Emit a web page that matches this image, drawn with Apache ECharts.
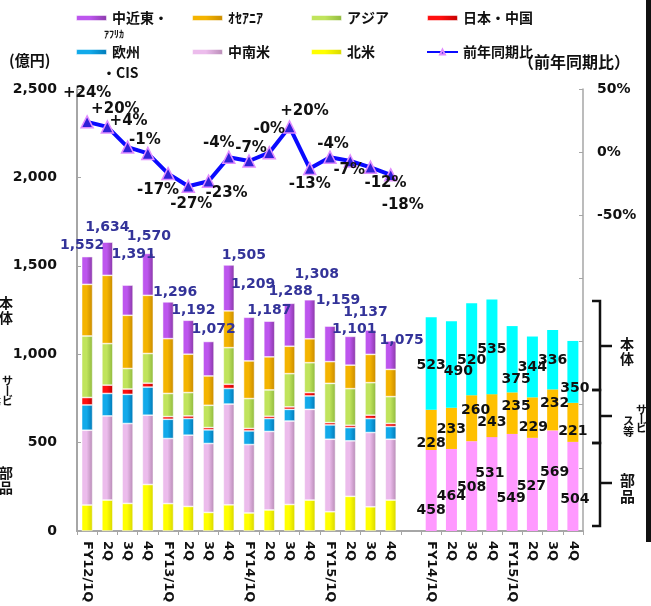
<!DOCTYPE html>
<html>
<head>
<meta charset="utf-8">
<script src="https://cdn.jsdelivr.net/npm/echarts@6/dist/echarts.min.js"></script>
<style>
  html, body { margin: 0; padding: 0; background: #fff; }
  #chart { width: 651px; height: 606px; }
</style>
</head>
<body>
<div id="chart"></div>
<script>
// Quarter labels
const quarters = ['FY12/1Q','2Q','3Q','4Q','FY13/1Q','2Q','3Q','4Q','FY14/1Q','2Q','3Q','4Q','FY15/1Q','2Q','3Q','4Q'];
const breakdownQuarters = ['FY14/1Q','2Q','3Q','4Q','FY15/1Q','2Q','3Q','4Q'];

// Sales by region (億円), FY12/1Q .. FY15/4Q
const northAmerica     = [147,175,156,263,155,139,105,148,102,119,150,175,109,196,137,175];
const latinAmerica     = [423,476,452,392,368,403,390,570,387,444,472,513,410,314,420,344];
const europeCis        = [143,127,165,159,109, 94, 77, 88, 77, 73, 66, 76, 81, 75, 79, 72];
const japanChina       = [ 42, 47, 30, 22, 15, 15, 13, 24, 14, 13, 14, 19, 13, 13, 19, 17];
const asia             = [348,235,116,168,131,132,126,207,169,149,188,169,222,207,184,152];
const oceania          = [292,386,301,329,310,217,166,208,213,187,155,135,123,133,160,154];
const middleEastAfrica = [157,188,171,237,208,192,195,260,247,202,243,221,201,163,138,161];

// Year-on-year change (%)
const yoyChange = [24,20,4,-1,-17,-27,-23,-4,-7,-0.4,20,-13,-4,-7,-12,-18];

// Sales by type (億円), FY14/1Q .. FY15/4Q
const parts    = [458,464,508,531,549,527,569,504];
const services = [228,233,260,243,235,229,232,221];
const mainUnit = [523,490,520,535,375,344,336,350];

// Label nudges [dx, dy] so neighbouring labels do not collide
const totalLabelOffsets = [[-5,0],[0,-4],[6,-20],[1,-6],[7,1],[5,1],[5,-1],[15,1],[4,-22],[0,0],[1,-1],[7,-14],[8,-15],[4,4],[-5,-7],[11,10]];
const yoyLabelOffsets = [[0,-29],[8,-18],[1,-26],[-3,-13],[-10,16],[3,18],[18,12],[-10,-14],[2,-13],[0,-24],[15,-16],[0,16],[3,-13],[-1,9],[15,16],[12,30]];
const partsLabelOffsets   = [[0,20],[0,6],[0,1],[-2,-11],[-1,16],[-1,2],[2,-8],[2,13]];
const servicesLabelOffsets = [[0,13],[0,1],[4,-8],[0,7],[4,-7],[1,10],[2,-7],[0,9]];
const mainLabelOffsets    = [[0,2],[7,7],[0,11],[0,2],[4,20],[0,0],[0,1],[2,16]];

const categories = quarters.concat([''], breakdownQuarters);
const GAP = 1;
const padLeft = arr => arr.concat(new Array(GAP + breakdownQuarters.length).fill(null));
const padRight = arr => new Array(quarters.length + GAP).fill(null).concat(arr);

const regionArrays = [northAmerica, latinAmerica, europeCis, japanChina, asia, oceania, middleEastAfrica];
const totals = quarters.map((_, i) => regionArrays.reduce((s, a) => s + a[i], 0));
const fmt = n => String(n).replace(/\B(?=(\d{3})+(?!\d))/g, ',');

const NUM_FONT = 'DejaVu Sans';
const JP_FONT = 'Noto Sans CJK JP';

function grad(c1, c2) {
  return { type: 'linear', x: 0, y: 0, x2: 1, y2: 0,
    colorStops: [{ offset: 0, color: c1 }, { offset: 0.45, color: c1 }, { offset: 1, color: c2 }] };
}

function regionBar(name, values, c1, c2, extra) {
  return Object.assign({
    name, type: 'bar', stack: 'sales', barWidth: 11,
    itemStyle: { color: grad(c1, c2), borderColor: 'rgba(255,255,255,0.75)', borderWidth: 0.7 },
    data: padLeft(values)
  }, extra || {});
}

function typeBar(name, values, color, offsets) {
  return {
    name, type: 'bar', stack: 'sales', barWidth: 11,
    itemStyle: { color },
    label: { show: true, position: 'inside', color: '#111', fontFamily: NUM_FONT, fontWeight: 'bold', fontSize: 14 },
    data: padRight(values.map((v, i) => ({ value: v, label: { offset: offsets[i] } })))
  };
}

const series = [
  regionBar('北米', northAmerica, '#ffff00', '#d6d600'),
  regionBar('中南米', latinAmerica, '#ecbcec', '#b68ab4'),
  regionBar('欧州', europeCis, '#12aaea', '#0078b6'),
  regionBar('日本・中国', japanChina, '#ff1010', '#c00000'),
  regionBar('アジア', asia, '#c0e45c', '#8fb83e'),
  regionBar('ｵｾｱﾆｱ', oceania, '#f4b400', '#c88a00'),
  regionBar('中近東・', middleEastAfrica, '#bd56ee', '#8838a6', {
    label: {
      show: true, position: 'top', distance: 4,
      color: '#333399', fontFamily: NUM_FONT, fontWeight: 'bold', fontSize: 14,
      formatter: p => fmt(totals[p.dataIndex])
    },
    data: padLeft(middleEastAfrica.map((v, i) => ({ value: v, label: { offset: totalLabelOffsets[i] } })))
  }),
  typeBar('部品', parts, '#ff99ff', partsLabelOffsets),
  typeBar('サービス等', services, '#ffc000', servicesLabelOffsets),
  typeBar('本体', mainUnit, '#00ffff', mainLabelOffsets),
  {
    name: '前年同期比', type: 'line', yAxisIndex: 1, z: 10,
    symbol: 'triangle', symbolSize: 12,
    lineStyle: { color: '#0a0aff', width: 4 },
    itemStyle: { color: '#3020d8', borderColor: '#e08cff', borderWidth: 1.5 },
    label: {
      show: true, position: 'inside', color: '#111',
      fontFamily: NUM_FONT, fontWeight: 'bold', fontSize: 15,
      formatter: p => (p.value < 0 ? '-' : '+') + Math.abs(Math.round(p.value)) + '%'
    },
    data: padLeft(yoyChange.map((v, i) => ({ value: v, label: { offset: yoyLabelOffsets[i] } })))
  }
];

const legendText = { fontFamily: JP_FONT, fontWeight: 'bold', fontSize: 14, color: '#111' };
function legendAt(name, left, top) {
  return { data: [name], left, top, itemWidth: 31, itemHeight: 6, itemGap: 0,
    textStyle: legendText, selectedMode: false };
}

const axisGrey = '#a6a6a6';

const option = {
  animation: false,
  backgroundColor: '#fff',
  grid: { left: 77, right: 68, top: 89, bottom: 75 },
  legend: [
    legendAt('中近東・', 70, 6),
    legendAt('ｵｾｱﾆｱ', 186, 6),
    legendAt('アジア', 305, 6),
    legendAt('日本・中国', 421, 6),
    legendAt('欧州', 70, 40),
    legendAt('中南米', 186, 40),
    legendAt('北米', 305, 40),
    legendAt('前年同期比', 421, 40)
  ],
  xAxis: {
    type: 'category', data: categories,
    axisLine: { lineStyle: { color: axisGrey, width: 2 } },
    axisTick: { show: true, length: 4, lineStyle: { color: axisGrey } },
    axisLabel: { interval: 0, rotate: -90, margin: 10, color: '#111',
      fontFamily: NUM_FONT, fontWeight: 'bold', fontSize: 13 }
  },
  yAxis: [
    {
      type: 'value', min: 0, max: 2500, interval: 500,
      axisLine: { show: true, lineStyle: { color: axisGrey, width: 2 } },
      axisTick: { show: true, inside: true, length: 4, lineStyle: { color: axisGrey } },
      splitLine: { show: false },
      axisLabel: { margin: 20, color: '#111', fontFamily: NUM_FONT, fontWeight: 'bold', fontSize: 14,
        formatter: v => fmt(v) }
    },
    {
      type: 'value', position: 'right', min: -300, max: 50, interval: 50,
      axisLine: { show: true, lineStyle: { color: axisGrey, width: 1.5 } },
      axisTick: { show: true, inside: true, length: 4, lineStyle: { color: axisGrey } },
      splitLine: { show: false },
      axisLabel: { margin: 14, color: '#111', fontFamily: NUM_FONT, fontWeight: 'bold', fontSize: 14,
        formatter: v => (v >= -50 ? v + '%' : '') }
    }
  ],
  series,
  graphic: [
    { type: 'text', left: 104, top: 29, style: { text: 'ｱﾌﾘｶ', font: 'bold 10px "Noto Sans CJK JP"', fill: '#111' } },
    { type: 'text', left: 102, top: 66, style: { text: '・CIS', font: 'bold 14px "Noto Sans CJK JP"', fill: '#111' } },
    { type: 'text', left: 9, top: 53, style: { text: '(億円)', font: 'bold 15px "Noto Sans CJK JP"', fill: '#111' } },
    { type: 'text', left: 518, top: 54, style: { text: '（前年同期比）', font: 'bold 16px "Noto Sans CJK JP"', fill: '#111' } },
    // side captions (left edge, partly cut off)
    { type: 'text', x: -1, y: 295, style: { text: '本\n体', font: 'bold 14px "Noto Sans CJK JP"', lineHeight: 15, fill: '#111' } },
    { type: 'text', x: 2, y: 376, style: { text: 'サ\n丨\nビ', font: 'bold 11px "Noto Sans CJK JP"', lineHeight: 10, fill: '#111' } },
    { type: 'text', x: -10, y: 386, style: { text: 'ス\n等', font: 'bold 11px "Noto Sans CJK JP"', lineHeight: 11, fill: '#111' } },
    { type: 'text', x: -1, y: 465, style: { text: '部\n品', font: 'bold 14px "Noto Sans CJK JP"', lineHeight: 15, fill: '#111' } },
    // right-hand braces for the breakdown
    { type: 'polyline', shape: { points: [[592,301],[600,301],[600,390],[592,390]] }, style: { stroke: '#111', lineWidth: 2.5, fill: null } },
    { type: 'polyline', shape: { points: [[600,346],[612,346]] }, style: { stroke: '#111', lineWidth: 2.5 } },
    { type: 'polyline', shape: { points: [[592,390],[600,390],[600,443],[592,443]] }, style: { stroke: '#111', lineWidth: 2.5, fill: null } },
    { type: 'polyline', shape: { points: [[600,416],[612,416]] }, style: { stroke: '#111', lineWidth: 2.5 } },
    { type: 'polyline', shape: { points: [[592,443],[600,443],[600,526],[592,526]] }, style: { stroke: '#111', lineWidth: 2.5, fill: null } },
    { type: 'polyline', shape: { points: [[600,483],[612,483]] }, style: { stroke: '#111', lineWidth: 2.5 } },
    { type: 'text', x: 620, y: 336, style: { text: '本\n体', font: 'bold 14px "Noto Sans CJK JP"', lineHeight: 15, fill: '#111' } },
    { type: 'text', x: 636, y: 405, style: { text: 'サ\n丨\nビ', font: 'bold 11px "Noto Sans CJK JP"', lineHeight: 9, fill: '#111' } },
    { type: 'text', x: 623, y: 415, style: { text: 'ス\n等', font: 'bold 11px "Noto Sans CJK JP"', lineHeight: 11, fill: '#111' } },
    { type: 'text', x: 620, y: 472, style: { text: '部\n品', font: 'bold 15px "Noto Sans CJK JP"', lineHeight: 16, fill: '#111' } },
    // frame edge on the right
    { type: 'rect', shape: { x: 646, y: 0, width: 5, height: 542 }, style: { fill: '#111' } }
  ]
};

const chart = echarts.init(document.getElementById('chart'), null, { renderer: 'canvas' });
chart.setOption(option);
</script>
</body>
</html>
